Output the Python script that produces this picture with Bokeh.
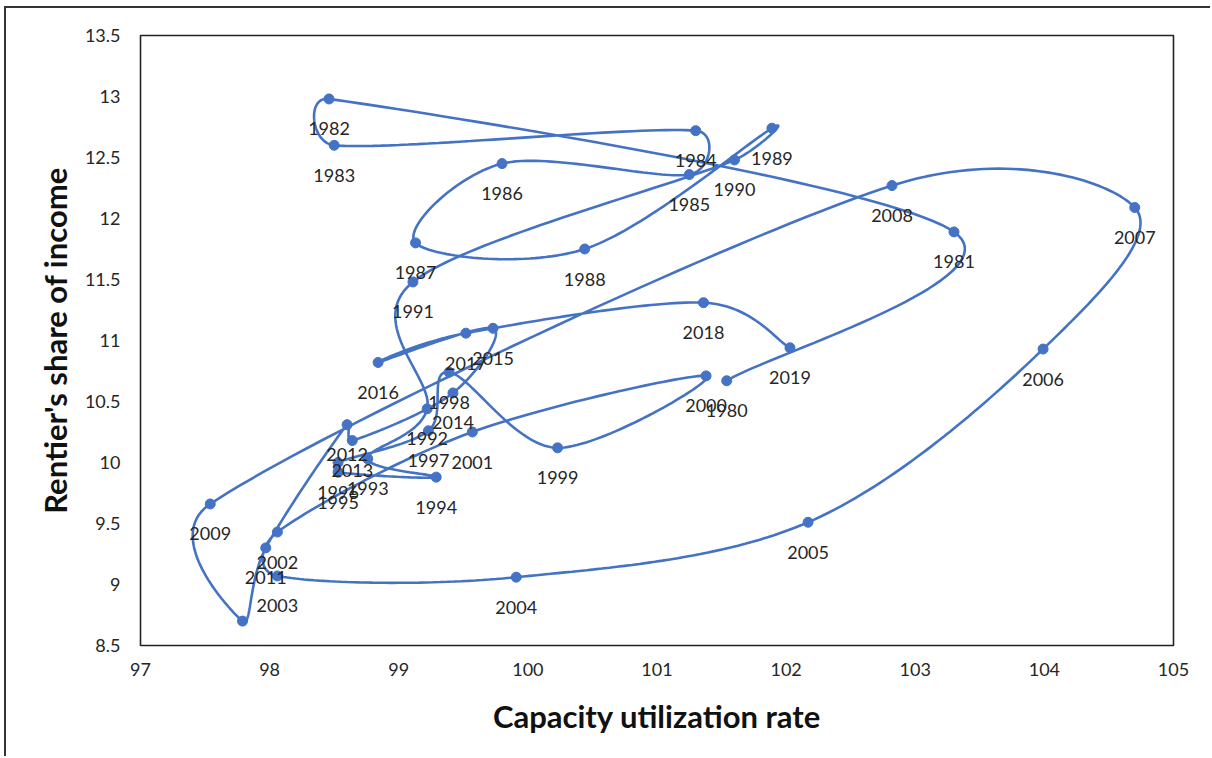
import numpy as np
from bokeh.plotting import figure
from bokeh.models import Range1d, FixedTicker, NumeralTickFormatter
from bokeh.core.properties import value
from bokeh.embed import file_html
from bokeh.resources import INLINE

# Capacity utilization vs. rentier's share of income, 1980-2019
years = list(range(1980, 2020))
capacity = [101.54, 103.30, 98.46, 98.50, 101.30, 101.25, 99.80, 99.13, 100.44, 101.89,
            101.60, 99.11, 99.22, 98.76, 99.29, 98.53, 98.53, 99.23, 99.39, 100.23,
            101.38, 99.57, 98.06, 98.06, 99.91, 102.17, 103.99, 104.70, 102.82, 97.54,
            97.79, 97.97, 98.60, 98.64, 99.42, 99.73, 98.84, 99.52, 101.36, 102.03]
rentier = [10.67, 11.89, 12.98, 12.60, 12.72, 12.36, 12.45, 11.80, 11.75, 12.74,
           12.48, 11.48, 10.44, 10.03, 9.88, 9.92, 10.00, 10.26, 10.74, 10.12,
           10.71, 10.25, 9.43, 9.07, 9.06, 9.51, 10.93, 12.09, 12.27, 9.66,
           8.70, 9.30, 10.31, 10.18, 10.57, 11.10, 10.82, 11.06, 11.31, 10.94]
x_ticks = [97, 98, 99, 100, 101, 102, 103, 104, 105]
y_ticks = [8.5, 9, 9.5, 10, 10.5, 11, 11.5, 12, 12.5, 13, 13.5]

BLUE = "#4472C4"
INK = "#262626"

W, H = 1206, 750
FRAME_W, FRAME_H = 1033, 610


def smooth_path(xs, ys, steps=40):
    """Smoothed line through the points: cubic Bezier pieces whose handles
    follow the neighbouring points (1/6 rule), each handle capped at half
    the length of its own segment, measured on screen."""
    kx = FRAME_W / (x_ticks[-1] - x_ticks[0])
    ky = FRAME_H / (y_ticks[-1] - y_ticks[0])
    pts = np.column_stack([np.asarray(xs) * kx, np.asarray(ys) * ky]).astype(float)
    n = len(pts)
    t = np.linspace(0.0, 1.0, steps + 1)[1:, None]
    out = [pts[0]]

    def handle(v, seg_len):
        L = np.hypot(*v)
        cap = seg_len / 2.0
        if L > cap and L > 0:
            v = v * (cap / L)
        return v

    for i in range(n - 1):
        p0 = pts[max(i - 1, 0)]
        p1 = pts[i]
        p2 = pts[i + 1]
        p3 = pts[min(i + 2, n - 1)]
        seg_len = np.hypot(*(p2 - p1))
        c1 = p1 + handle((p2 - p0) / 6.0, seg_len)
        c2 = p2 - handle((p3 - p1) / 6.0, seg_len)
        seg = ((1 - t) ** 3) * p1 + 3 * ((1 - t) ** 2) * t * c1 \
            + 3 * (1 - t) * (t ** 2) * c2 + (t ** 3) * p2
        out.extend(seg)
    out = np.array(out)
    return out[:, 0] / kx, out[:, 1] / ky


p = figure(width=W, height=H,
           x_range=Range1d(x_ticks[0], x_ticks[-1]),
           y_range=Range1d(y_ticks[0], y_ticks[-1]),
           output_backend="svg", toolbar_location=None,
           min_border_left=134, min_border_right=W - 134 - FRAME_W,
           min_border_top=27, min_border_bottom=H - 27 - FRAME_H)
p.margin = (6, 0, 0, 4)
p.styles = {"border-top": "2px solid #333", "border-left": "2px solid #333"}

p.background_fill_color = "white"
p.border_fill_color = "white"
p.outline_line_color = "#222"
p.outline_line_width = 1.6
p.grid.visible = False

for ax in (p.xaxis, p.yaxis):
    ax.axis_line_color = None
    ax.major_tick_line_color = None
    ax.minor_tick_line_color = None
    ax.major_tick_out = 0
    ax.major_tick_in = 0
    ax.major_label_text_font = "Lato"
    ax.major_label_text_font_size = "18px"
    ax.major_label_text_color = INK
    ax.axis_label_text_font = "Lato"
    ax.axis_label_text_font_style = "bold"
    ax.axis_label_text_font_size = "31px"
    ax.axis_label_text_color = "#111"

p.xaxis.ticker = FixedTicker(ticks=x_ticks)
p.yaxis.ticker = FixedTicker(ticks=y_ticks)
p.xaxis.formatter = NumeralTickFormatter(format="0")
p.yaxis.formatter = NumeralTickFormatter(format="0.[0]")
p.xaxis.major_label_standoff = 17
p.yaxis.major_label_standoff = 20
p.xaxis.axis_label = "Capacity utilization rate"
p.yaxis.axis_label = "Rentier's share of income"
p.xaxis.axis_label_standoff = 18
p.yaxis.axis_label_standoff = 8

sx, sy = smooth_path(capacity, rentier)
p.line(sx, sy, line_color=BLUE, line_width=2.6)
p.scatter(capacity, rentier, size=10, fill_color=BLUE, line_color=BLUE)
p.text(x=capacity, y=rentier, text=[str(y) for y in years],
       text_font=value("Lato"), text_font_size="18px", text_color=INK,
       text_align="center", text_baseline="middle", y_offset=30)

open("out.html", "w").write(file_html(p, INLINE))
